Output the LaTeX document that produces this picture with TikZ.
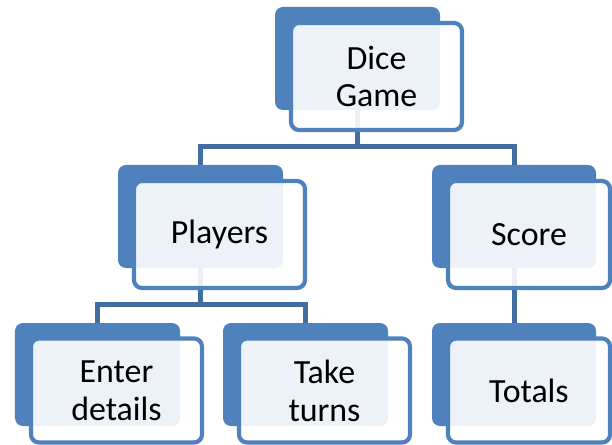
\documentclass[tikz,border=0pt]{standalone}
\usepackage{fontspec}
\setmainfont{Carlito}
\usetikzlibrary{backgrounds}
\definecolor{darkbox}{HTML}{4F81BD}
\definecolor{frontline}{HTML}{4F81BD}
\definecolor{connline}{HTML}{416E9F}
\tikzset{
  backbox/.style={rectangle, rounded corners=8bp, fill=darkbox, draw=none,
    minimum width=165bp, minimum height=103bp, inner sep=0pt},
  frontbox/.style={rectangle, rounded corners=8bp, draw=frontline, line width=4.2bp,
    fill=white, fill opacity=0.9, text opacity=1, text=black, align=center,
    minimum width=171bp, minimum height=107bp, inner sep=0pt,
    font=\fontsize{34}{38}\selectfont},
  lowbox/.style={frontbox, minimum height=104bp},
  conn/.style={draw=connline, line width=5bp}
}
\begin{document}
\begin{tikzpicture}[x=1bp,y=-1bp]
\useasboundingbox (0,0) rectangle (612,445);
\clip (0,0) rectangle (612,445);
% back boxes
\node[backbox] (dkDice) at (357.5,58.5) {};
\node[backbox] (dkPlayers) at (200.5,216.5) {};
\node[backbox, minimum width=164bp] (dkScore) at (514,216.5) {};
\node[backbox] (dkEnter) at (97.5,374.5) {};
\node[backbox] (dkTake) at (305.5,374.5) {};
\node[backbox, minimum width=164bp] (dkTotals) at (514,374.5) {};
% front boxes
\node[frontbox] (fDice) at (376.5,76.5) {Dice\\Game};
\node[frontbox] (fPlayers) at (219.5,234.5) {Players};
\node[frontbox, minimum width=162bp] (fScore) at (529,234.5) {Score};
\node[lowbox] (fEnter) at (116.5,390.5) {Enter\\details};
\node[lowbox] (fTake) at (324.5,390.5) {Take\\turns};
\node[lowbox, minimum width=162bp] (fTotals) at (529,390.5) {Totals};
% connectors
\coordinate (busA) at (357.5,147);
\coordinate (busB) at (200.5,304);
\begin{scope}[on background layer]
\draw[conn] (dkDice.south) -- (busA);
\draw[conn] (dkPlayers.north) |- (busA) -| (dkScore.north);
\draw[conn] (dkPlayers.south) -- (busB);
\draw[conn] (dkEnter.north) |- (busB) -| (dkTake.north);
\draw[conn] (dkScore.south) -- (dkTotals.north);
\end{scope}
\end{tikzpicture}
\end{document}
